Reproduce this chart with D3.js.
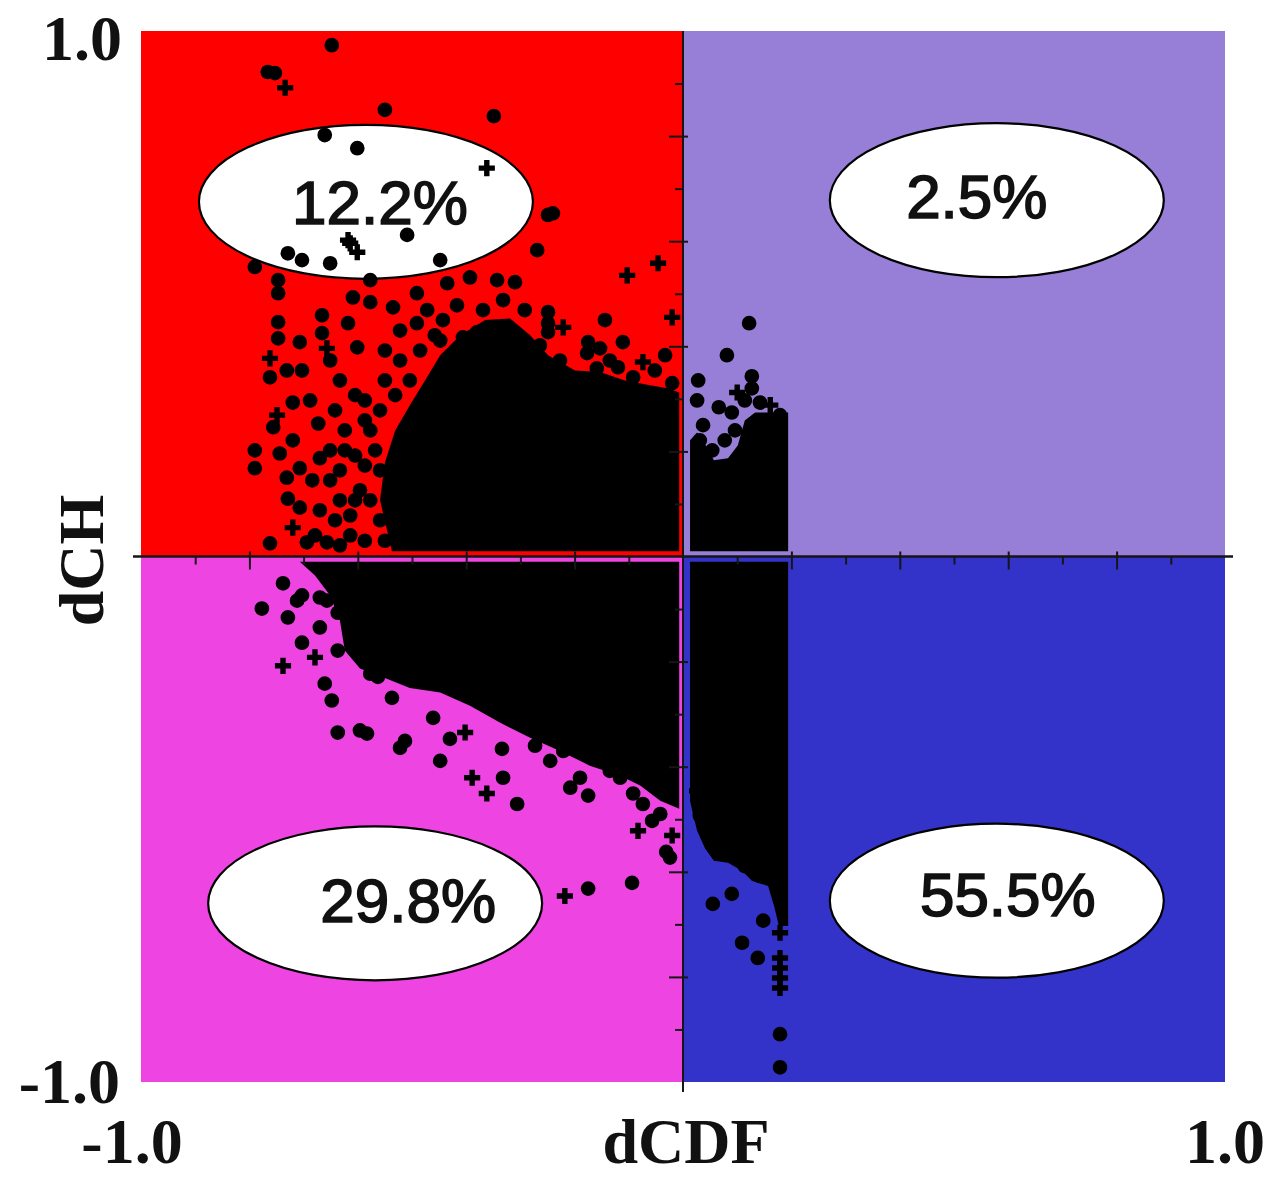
<!DOCTYPE html>
<html>
<head>
<meta charset="utf-8">
<script src="https://cdn.jsdelivr.net/npm/d3@7"></script>
<style>
  html, body { margin: 0; padding: 0; background: #ffffff; }
  svg { display: block; }
</style>
</head>
<body>
<svg id="chart" width="1269" height="1177"></svg>
<script>
// ---------------- DATA ----------------
const xTickLabels = ["-1.0", "1.0"];
const yTickLabels = ["-1.0", "1.0"];
const xTitle = "dCDF";
const yTitle = "dCH";

const quadrants = [
  { name: "UL", x0: -1, x1: 0, y0: 0, y1: 1 },
  { name: "UR", x0: 0, x1: 1, y0: 0, y1: 1 },
  { name: "LL", x0: -1, x1: 0, y0: -1, y1: 0 },
  { name: "LR", x0: 0, x1: 1, y0: -1, y1: 0 }
];
const quadrantPercents = ["12.2%", "2.5%", "29.8%", "55.5%"];
// label anchor (centre of ellipse), in data units
const labelCentersX = [-0.585, 0.579, -0.568, 0.579];
const labelCentersY = [0.675, 0.678, -0.660, -0.655];

const majorTicks = [-0.8, -0.6, -0.4, -0.2, 0.2, 0.4, 0.6, 0.8];
const minorTicks = [-0.9, -0.7, -0.5, -0.3, -0.1, 0.1, 0.3, 0.5, 0.7, 0.9];

// dense (saturated) parts of the point cloud, as outlines [dCDF, dCH]
const denseUL = [[-0.537,0.010],[-0.559,0.107],[-0.550,0.179],[-0.531,0.240],[-0.504,0.288],[-0.476,0.335],[-0.448,0.383],[-0.411,0.421],[-0.365,0.450],[-0.319,0.453],[-0.282,0.421],[-0.249,0.383],[-0.199,0.354],[-0.153,0.351],[-0.107,0.335],[-0.061,0.326],[-0.028,0.320],[-0.007,0.312],[-0.007,0.010]];
const denseUR = [[0.013,0.010],[0.013,0.221],[0.026,0.236],[0.042,0.211],[0.057,0.183],[0.083,0.187],[0.101,0.211],[0.114,0.259],[0.133,0.274],[0.161,0.274],[0.194,0.274],[0.194,0.010]];
const denseLL = [[-0.707,-0.010],[-0.007,-0.010],[-0.007,-0.480],[-0.042,-0.465],[-0.079,-0.436],[-0.116,-0.417],[-0.172,-0.398],[-0.227,-0.370],[-0.282,-0.345],[-0.338,-0.316],[-0.393,-0.284],[-0.448,-0.259],[-0.504,-0.250],[-0.550,-0.231],[-0.596,-0.213],[-0.624,-0.179],[-0.633,-0.122],[-0.651,-0.074],[-0.679,-0.036]];
const denseLR = [[0.013,-0.010],[0.194,-0.010],[0.194,-0.703],[0.177,-0.703],[0.168,-0.665],[0.157,-0.627],[0.127,-0.617],[0.109,-0.598],[0.083,-0.583],[0.057,-0.579],[0.041,-0.556],[0.026,-0.522],[0.017,-0.484],[0.013,-0.465]];

// individual points: dCDF, dCH, marker ("c" = dot, "p" = plus)
const pointsUL = [
  [-0.648,0.973,"c"],[-0.766,0.922,"c"],[-0.753,0.920,"c"],[-0.734,0.892,"p"],[-0.550,0.850,"c"],[-0.349,0.838,"c"],
  [-0.661,0.802,"c"],[-0.601,0.777,"c"],[-0.362,0.739,"p"],[-0.509,0.612,"c"],[-0.614,0.596,"p"],[-0.601,0.579,"p"],
  [-0.249,0.650,"c"],[-0.240,0.653,"c"],[-0.046,0.558,"p"],[-0.790,0.551,"c"],[-0.747,0.526,"c"],[-0.747,0.501,"c"],
  [-0.747,0.446,"c"],[-0.747,0.415,"c"],[-0.762,0.377,"p"],[-0.762,0.341,"c"],[-0.707,0.408,"c"],[-0.666,0.459,"c"],
  [-0.666,0.425,"c"],[-0.657,0.396,"p"],[-0.651,0.373,"c"],[-0.731,0.354,"c"],[-0.703,0.354,"c"],[-0.688,0.297,"c"],
  [-0.720,0.293,"c"],[-0.756,0.246,"c"],[-0.749,0.269,"p"],[-0.720,0.221,"c"],[-0.744,0.196,"c"],[-0.790,0.202,"c"],
  [-0.790,0.168,"c"],[-0.731,0.150,"c"],[-0.670,0.187,"c"],[-0.707,0.168,"c"],[-0.729,0.110,"c"],[-0.707,0.093,"c"],
  [-0.720,0.055,"p"],[-0.762,0.025,"c"],[-0.694,0.027,"c"],[-0.657,0.027,"c"],[-0.673,0.253,"c"],[-0.633,0.335,"c"],
  [-0.601,0.398,"c"],[-0.609,0.493,"c"],[-0.577,0.484,"c"],[-0.618,0.444,"c"],[-0.535,0.474,"c"],[-0.491,0.501,"c"],
  [-0.472,0.469,"c"],[-0.491,0.444,"c"],[-0.417,0.478,"c"],[-0.435,0.520,"c"],[-0.393,0.531,"c"],[-0.343,0.526,"c"],
  [-0.310,0.522,"c"],[-0.332,0.488,"c"],[-0.369,0.469,"c"],[-0.443,0.450,"c"],[-0.406,0.417,"c"],[-0.380,0.427,"c"],
  [-0.249,0.465,"c"],[-0.249,0.444,"c"],[-0.249,0.427,"c"],[-0.221,0.436,"p"],[-0.144,0.450,"c"],[-0.103,0.535,"p"],
  [-0.020,0.455,"p"],[-0.111,0.408,"c"],[-0.175,0.408,"c"],[-0.153,0.396,"c"],[-0.177,0.387,"c"],[-0.074,0.370,"p"],
  [-0.120,0.360,"c"],[-0.159,0.358,"c"],[-0.092,0.341,"c"],[-0.048,0.303,"c"],[-0.020,0.330,"c"],[-0.208,0.341,"c"],
  [-0.172,0.330,"c"],[-0.258,0.335,"c"],[-0.295,0.373,"c"],[-0.306,0.358,"c"],[-0.332,0.383,"c"],[-0.269,0.583,"c"],
  [-0.448,0.564,"c"],[-0.577,0.526,"c"],[-0.651,0.558,"c"],[-0.703,0.564,"c"],[-0.729,0.577,"c"],[-0.618,0.602,"p"],
  [-0.587,0.259,"c"],[-0.568,0.202,"c"],[-0.596,0.126,"c"],[-0.559,0.069,"c"],[-0.614,0.040,"c"],[-0.633,0.164,"c"],
  [-0.587,0.297,"c"],[-0.550,0.335,"c"],[-0.522,0.373,"c"],[-0.485,0.392,"c"],[-0.448,0.411,"c"],
  [-0.624,0.240,"c"],[-0.651,0.202,"c"],[-0.605,0.192,"c"],[-0.633,0.107,"c"],[-0.670,0.088,"c"],[-0.587,0.030,"c"],
  [-0.633,0.021,"c"],[-0.559,0.164,"c"],[-0.577,0.107,"c"],[-0.614,0.078,"c"],
  [-0.642,0.069,"c"],[-0.605,0.107,"c"],[-0.651,0.145,"c"],[-0.587,0.173,"c"],[-0.624,0.202,"c"],[-0.577,0.240,"c"],
  [-0.642,0.278,"c"],[-0.605,0.307,"c"],[-0.559,0.278,"c"],[-0.531,0.307,"c"],[-0.504,0.335,"c"],[-0.684,0.145,"c"],
  [-0.679,0.040,"c"],[-0.550,0.030,"c"],
  [-0.264,0.402,"c"],[-0.227,0.373,"c"],[-0.135,0.373,"c"],[-0.052,0.354,"c"],[-0.033,0.383,"c"],[-0.292,0.469,"c"],
  [-0.458,0.421,"c"],[-0.522,0.430,"c"],[-0.550,0.392,"c"]
];
const pointsUR = [
  [0.122,0.444,"c"],[0.081,0.383,"c"],[0.028,0.335,"c"],[0.026,0.297,"c"],[0.127,0.343,"c"],[0.127,0.320,"c"],
  [0.066,0.284,"c"],[0.090,0.274,"c"],[0.100,0.312,"p"],[0.114,0.297,"c"],[0.142,0.293,"c"],[0.037,0.250,"c"],
  [0.179,0.269,"c"],[0.031,0.221,"c"],[0.077,0.221,"c"],[0.054,0.202,"c"],[0.096,0.240,"c"],[0.161,0.288,"p"]
];
const pointsLL = [
  [-0.738,-0.051,"c"],[-0.777,-0.099,"c"],[-0.712,-0.084,"c"],[-0.703,-0.074,"c"],[-0.729,-0.116,"c"],[-0.670,-0.078,"c"],
  [-0.657,-0.084,"c"],[-0.637,-0.107,"c"],[-0.670,-0.135,"c"],[-0.703,-0.164,"c"],[-0.679,-0.192,"p"],[-0.738,-0.208,"p"],
  [-0.637,-0.179,"c"],[-0.661,-0.242,"c"],[-0.648,-0.274,"c"],[-0.637,-0.335,"c"],[-0.596,-0.331,"c"],[-0.583,-0.337,"c"],
  [-0.577,-0.223,"c"],[-0.563,-0.229,"c"],[-0.537,-0.269,"c"],[-0.513,-0.351,"c"],[-0.522,-0.364,"c"],[-0.461,-0.307,"c"],
  [-0.448,-0.389,"c"],[-0.430,-0.347,"c"],[-0.402,-0.335,"p"],[-0.389,-0.421,"p"],[-0.362,-0.451,"p"],[-0.334,-0.366,"c"],
  [-0.332,-0.421,"c"],[-0.306,-0.471,"c"],[-0.273,-0.360,"c"],[-0.208,-0.440,"c"],[-0.175,-0.455,"c"],[-0.092,-0.451,"c"],
  [-0.074,-0.471,"c"],[-0.083,-0.522,"p"],[-0.094,-0.621,"c"],[-0.175,-0.632,"c"],[-0.218,-0.646,"p"],[-0.024,-0.573,"c"],
  [-0.031,-0.562,"c"],[-0.042,-0.490,"c"],[-0.190,-0.421,"c"],[-0.245,-0.389,"c"],[-0.221,-0.370,"c"],[-0.135,-0.408,"c"],
  [-0.116,-0.421,"c"],[-0.057,-0.503,"c"],[-0.020,-0.531,"p"]
];
const pointsLR = [
  [0.055,-0.661,"c"],[0.090,-0.642,"c"],[0.109,-0.735,"c"],[0.138,-0.764,"c"],[0.148,-0.693,"c"],[0.179,-0.716,"p"],
  [0.179,-0.764,"p"],[0.179,-0.783,"p"],[0.179,-0.802,"p"],[0.179,-0.821,"p"],[0.179,-0.909,"c"],[0.179,-0.972,"c"],
  [0.026,-0.446,"p"],[0.031,-0.493,"c"],[0.046,-0.531,"c"],[0.068,-0.560,"c"],[0.142,-0.608,"c"],[0.114,-0.589,"c"]
];

const quadColors = ["#ff0000", "#977ed7", "#ee45e2", "#3333c9"];

// ---------------- CHART ----------------
const svg = d3.select("#chart");
const x = d3.scaleLinear().domain([-1, 1]).range([141, 1225]);
const y = d3.scaleLinear().domain([-1, 1]).range([1082, 31]);

// quadrant backgrounds
svg.append("g").selectAll("rect").data(quadrants).join("rect")
  .attr("x", d => x(d.x0)).attr("y", d => y(d.y1))
  .attr("width", d => x(d.x1) - x(d.x0)).attr("height", d => y(d.y0) - y(d.y1))
  .attr("fill", (d, i) => quadColors[i]);

// ellipses
const ell = svg.append("g");
ell.selectAll("ellipse").data(quadrantPercents).join("ellipse")
  .attr("cx", (d, i) => x(labelCentersX[i]))
  .attr("cy", (d, i) => y(labelCentersY[i]))
  .attr("rx", 167).attr("ry", 77)
  .attr("fill", "#ffffff").attr("stroke", "#000").attr("stroke-width", 2.2);

// dense clouds
const line = d3.line().x(d => x(d[0])).y(d => y(d[1])).curve(d3.curveLinearClosed);
svg.append("g").selectAll("path").data([denseUL, denseUR, denseLL, denseLR]).join("path")
  .attr("d", line).attr("fill", "#000");

// individual markers
const allPoints = pointsUL.concat(pointsUR, pointsLL, pointsLR);
const circ = d3.symbol().type(d3.symbolCircle).size(170);
const cross = d3.symbol().type(d3.symbolCross).size(145);
svg.append("g").selectAll("path").data(allPoints).join("path")
  .attr("transform", d => `translate(${x(d[0])},${y(d[1])})`)
  .attr("d", d => d[2] === "p" ? cross() : circ())
  .attr("fill", "#000");

// percent texts
svg.append("g").selectAll("text").data(quadrantPercents).join("text")
  .attr("x", (d, i) => x(labelCentersX[i]) + [14, -20, 33, 11][i])
  .attr("y", (d, i) => y(labelCentersY[i]) + [22, 18, 19, 15][i])
  .attr("text-anchor", "middle")
  .attr("font-family", "'Liberation Sans', Arial, sans-serif")
  .attr("font-size", 62)
  .attr("fill", "#111").attr("stroke", "#111").attr("stroke-width", 1.6)
  .text(d => d);

// axes through the origin
const axisColor = "#161616";
svg.append("line").attr("x1", x(-1) - 8).attr("x2", x(1) + 8).attr("y1", y(0)).attr("y2", y(0))
  .attr("stroke", axisColor).attr("stroke-width", 2.6);
svg.append("line").attr("x1", x(0)).attr("x2", x(0)).attr("y1", y(1)).attr("y2", y(-1) + 10)
  .attr("stroke", axisColor).attr("stroke-width", 2);

function styleAxis(g) {
  g.select(".domain").remove();
  g.selectAll(".tick line").attr("stroke", axisColor).attr("stroke-width", 2);
  g.selectAll(".tick text").remove();
}
svg.append("g").attr("transform", `translate(0,${y(0)})`)
  .call(d3.axisBottom(x).tickValues(majorTicks).tickSize(13).tickFormat("")).call(styleAxis);
svg.append("g").attr("transform", `translate(0,${y(0)})`)
  .call(d3.axisBottom(x).tickValues(minorTicks).tickSize(8).tickFormat("")).call(styleAxis);
svg.append("g").attr("transform", `translate(0,${y(0)})`)
  .call(d3.axisTop(x).tickValues(majorTicks).tickSize(5).tickFormat("")).call(styleAxis);
svg.append("g").attr("transform", `translate(${x(0)},0)`)
  .call(d3.axisLeft(y).tickValues(majorTicks).tickSize(14).tickFormat("")).call(styleAxis);
svg.append("g").attr("transform", `translate(${x(0)},0)`)
  .call(d3.axisLeft(y).tickValues(minorTicks).tickSize(8).tickFormat("")).call(styleAxis);
svg.append("g").attr("transform", `translate(${x(0)},0)`)
  .call(d3.axisRight(y).tickValues(majorTicks).tickSize(5).tickFormat("")).call(styleAxis);

// axis end labels
const serif = "'Liberation Serif', 'Times New Roman', serif";
const lab = svg.append("g").attr("font-family", serif).attr("font-weight", "bold")
  .attr("font-size", 64).attr("fill", "#111");
lab.append("text").attr("x", x(-1) - 19).attr("y", y(1) + 29).attr("text-anchor", "end").text(yTickLabels[1]);
lab.append("text").attr("x", x(-1) - 21).attr("y", y(-1) + 21).attr("text-anchor", "end").text(yTickLabels[0]);
lab.append("text").attr("x", x(-1) - 9).attr("y", 1163).attr("text-anchor", "middle").text(xTickLabels[0]);
lab.append("text").attr("x", x(1)).attr("y", 1163).attr("text-anchor", "middle").text(xTickLabels[1]);
lab.append("text").attr("x", x(0) + 3).attr("y", 1163).attr("text-anchor", "middle").text(xTitle);
lab.append("text").attr("transform", `translate(103,${y(0) + 4}) rotate(-90)`)
  .attr("text-anchor", "middle").text(yTitle);
</script>
</body>
</html>
